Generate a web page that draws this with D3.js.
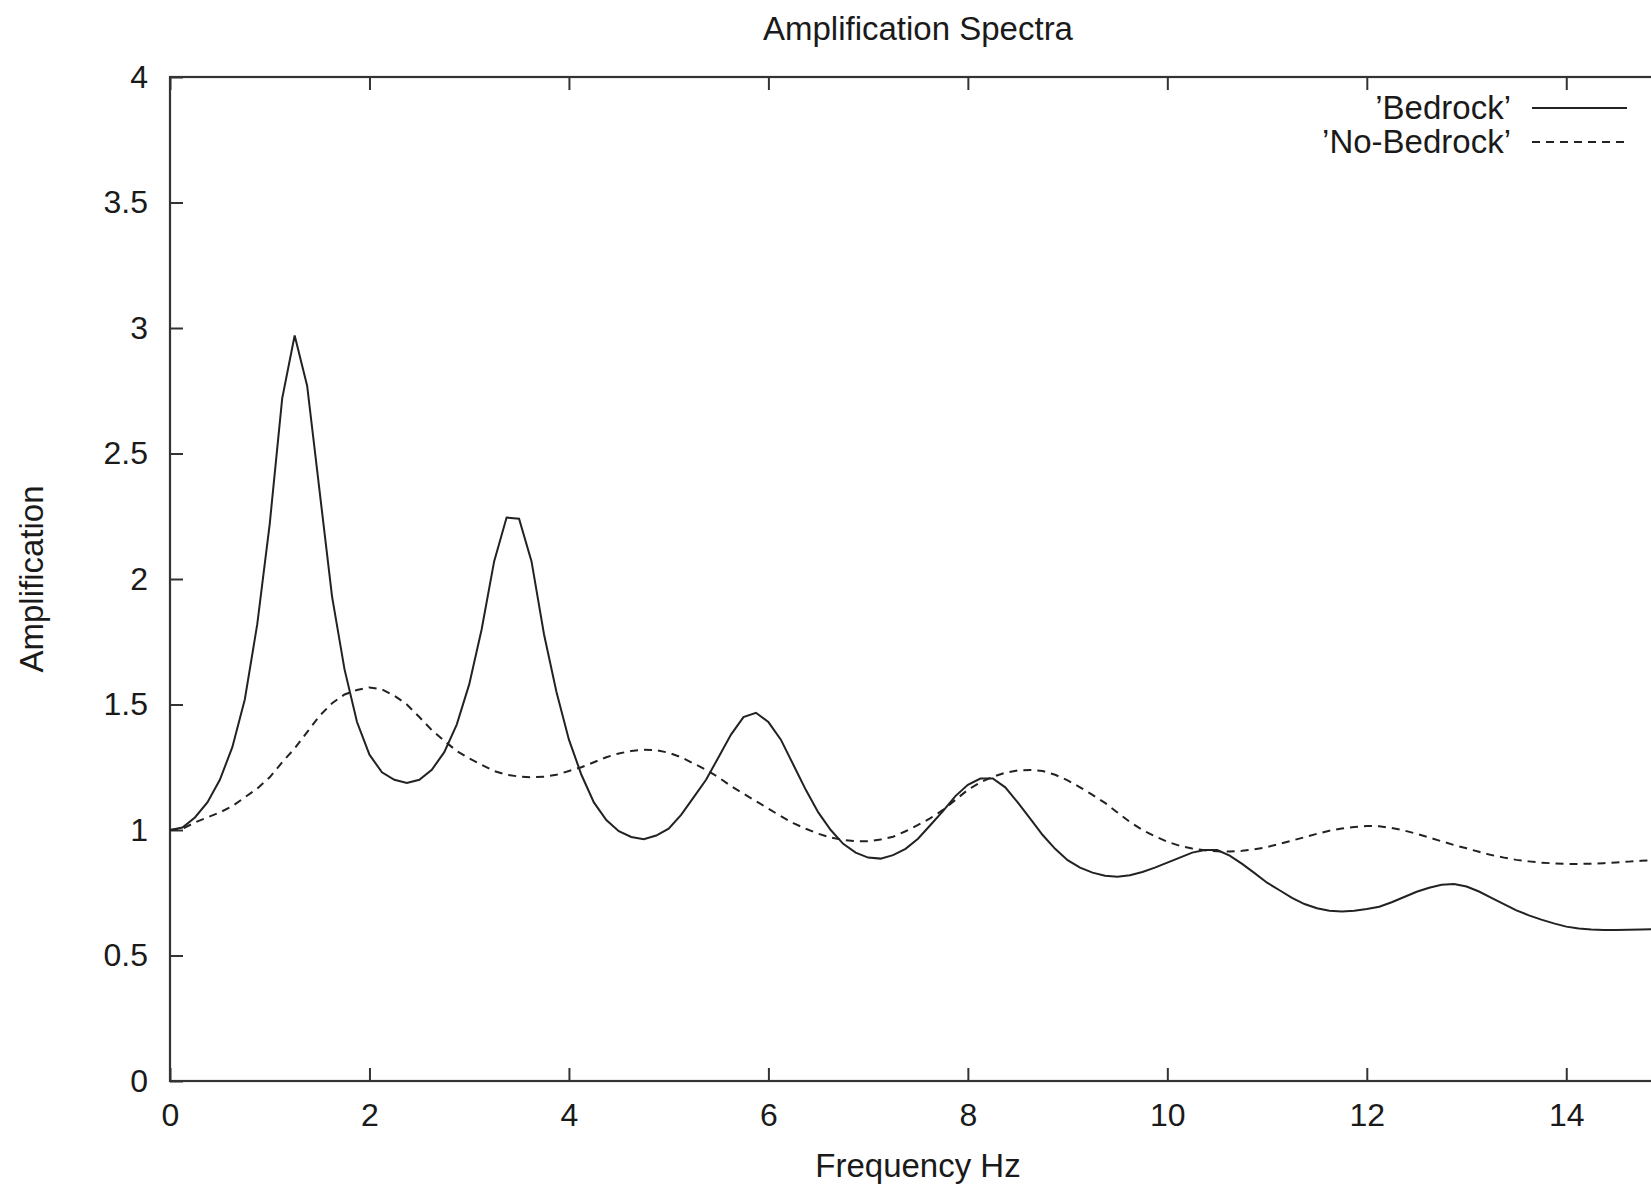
<!DOCTYPE html>
<html>
<head>
<meta charset="utf-8">
<script src="https://cdn.jsdelivr.net/npm/d3@7"></script>
<style>
    body { margin: 0; background: #fff; }
    text { font-family: "Liberation Sans", Arial, sans-serif; fill: #1a1a1a; }
</style>
</head>
<body>
<div class="chart"></div>
<script>
// frequency samples, 0.125 Hz apart (0 .. 15 Hz)
const freq = d3.range(0, 121).map(i => i * 0.125);

// amplification, one value per frequency sample
const bedrock = [
    1.00, 1.01, 1.05, 1.11, 1.20, 1.33, 1.52, 1.82, 2.22, 2.72,
    2.97, 2.77, 2.35, 1.93, 1.64, 1.43, 1.30, 1.23, 1.20, 1.187,
    1.20, 1.24, 1.31, 1.42, 1.58, 1.80, 2.07, 2.245, 2.24, 2.07,
    1.78, 1.55, 1.36, 1.22, 1.11, 1.04, 0.995, 0.972, 0.963, 0.978,
    1.005, 1.06, 1.13, 1.20, 1.29, 1.38, 1.45, 1.467, 1.43, 1.36,
    1.26, 1.16, 1.07, 1.00, 0.945, 0.91, 0.89, 0.886, 0.90, 0.925,
    0.965, 1.02, 1.075, 1.135, 1.18, 1.205, 1.205, 1.17, 1.11, 1.045,
    0.98, 0.925, 0.88, 0.85, 0.83, 0.818, 0.814, 0.82, 0.833, 0.85,
    0.87, 0.89, 0.91, 0.92, 0.92, 0.898, 0.865, 0.828, 0.79, 0.76,
    0.73, 0.705, 0.688, 0.678, 0.675, 0.678, 0.685, 0.694, 0.712, 0.733,
    0.754, 0.77, 0.782, 0.785, 0.775, 0.755, 0.73, 0.705, 0.68, 0.66,
    0.643, 0.628, 0.615, 0.608, 0.604, 0.602, 0.602, 0.603, 0.604, 0.605,
    0.606
];

const noBedrock = [
    1.00, 1.005, 1.03, 1.05, 1.07, 1.095, 1.13, 1.165, 1.21, 1.27,
    1.325, 1.39, 1.455, 1.505, 1.54, 1.558, 1.568, 1.56, 1.535, 1.50,
    1.45, 1.398, 1.355, 1.315, 1.285, 1.26, 1.235, 1.22, 1.213, 1.21,
    1.212, 1.22, 1.235, 1.25, 1.27, 1.29, 1.305, 1.315, 1.32, 1.318,
    1.308, 1.29, 1.265, 1.24, 1.21, 1.175, 1.145, 1.115, 1.085, 1.055,
    1.027, 1.005, 0.985, 0.97, 0.96, 0.955, 0.955, 0.962, 0.973, 0.995,
    1.02, 1.047, 1.08, 1.12, 1.16, 1.19, 1.212, 1.228, 1.237, 1.239,
    1.235, 1.22, 1.198, 1.17, 1.14, 1.108, 1.07, 1.032, 1.00, 0.975,
    0.953, 0.937, 0.926, 0.919, 0.915, 0.914, 0.917, 0.923, 0.932, 0.945,
    0.958, 0.971, 0.985, 0.997, 1.006, 1.012, 1.016, 1.015, 1.008, 0.998,
    0.985, 0.97, 0.955, 0.94, 0.927, 0.913, 0.90, 0.89, 0.881, 0.875,
    0.87, 0.867, 0.865, 0.865, 0.866, 0.868, 0.871, 0.874, 0.877, 0.88,
    0.883
];

// tick values
const xTicks = [0, 2, 4, 6, 8, 10, 12, 14];
const yTicks = [0, 0.5, 1, 1.5, 2, 2.5, 3, 3.5, 4];

// legend entries
const seriesNames = ["\u2019Bedrock\u2019", "\u2019No-Bedrock\u2019"];

// set size of the chart
const w = 1651, h = 1185;
const margin = { top: 77, left: 170, bottom: 1081, right: 1666 };
const tickLen = 13;
const ink = "#333";

// set scale
const xScale = d3.scaleLinear()
    .domain([0, 15])
    .range([margin.left, margin.right]);

const yScale = d3.scaleLinear()
    .domain([0, 4])
    .range([margin.bottom, margin.top]);

// create chart in svg
const svg = d3.select("div.chart")
    .append("svg")
    .attr("width", w)
    .attr("height", h);

// axes, ticks on all four sides pointing inward
const xBottom = d3.axisBottom(xScale).tickValues(xTicks)
    .tickSizeInner(-tickLen).tickSizeOuter(0).tickPadding(22)
    .tickFormat(d3.format("d"));
const xTop = d3.axisTop(xScale).tickValues(xTicks)
    .tickSizeInner(-tickLen).tickSizeOuter(0).tickFormat("");
const yLeft = d3.axisLeft(yScale).tickValues(yTicks)
    .tickSizeInner(-tickLen).tickSizeOuter(0).tickPadding(22)
    .tickFormat(d => d);
const yRight = d3.axisRight(yScale).tickValues(yTicks)
    .tickSizeInner(-tickLen).tickSizeOuter(0).tickFormat("");

svg.append("g").attr("transform", "translate(0," + margin.bottom + ")").call(xBottom);
svg.append("g").attr("transform", "translate(0," + margin.top + ")").call(xTop);
svg.append("g").attr("transform", "translate(" + margin.left + ",0)").call(yLeft);
svg.append("g").attr("transform", "translate(" + margin.right + ",0)").call(yRight);

svg.selectAll(".domain").remove();
svg.selectAll(".tick line")
    .attr("stroke", ink)
    .attr("stroke-width", 2);
svg.selectAll(".tick text")
    .style("font-size", "32px")
    .attr("fill", "#1a1a1a");

// plot border
svg.append("rect")
    .attr("x", margin.left)
    .attr("y", margin.top)
    .attr("width", margin.right - margin.left)
    .attr("height", margin.bottom - margin.top)
    .attr("fill", "none")
    .attr("stroke", ink)
    .attr("stroke-width", 2.2);

// curves
const line = (vals) => d3.line()
    .x((d, i) => xScale(freq[i]))
    .y(d => yScale(d))(vals);

svg.append("path")
    .attr("d", line(noBedrock))
    .attr("fill", "none")
    .attr("stroke", "#222")
    .attr("stroke-width", 2)
    .attr("stroke-dasharray", "8,6");

svg.append("path")
    .attr("d", line(bedrock))
    .attr("fill", "none")
    .attr("stroke", "#222")
    .attr("stroke-width", 2);

// titles
svg.append("text")
    .attr("x", (margin.left + margin.right) / 2)
    .attr("y", 40)
    .attr("text-anchor", "middle")
    .style("font-size", "33px")
    .text("Amplification Spectra");

svg.append("text")
    .attr("x", (margin.left + margin.right) / 2)
    .attr("y", 1177)
    .attr("text-anchor", "middle")
    .style("font-size", "33px")
    .text("Frequency Hz");

svg.append("text")
    .attr("transform", "translate(43," + (margin.top + margin.bottom) / 2 + ") rotate(-90)")
    .attr("text-anchor", "middle")
    .style("font-size", "33px")
    .text("Amplification");

// legend
const legend = svg.selectAll(".legend")
    .data(seriesNames)
    .enter()
    .append("g")
    .attr("transform", (d, i) => "translate(0," + (108 + i * 34) + ")");

legend.append("text")
    .attr("x", 1511)
    .attr("y", 11)
    .attr("text-anchor", "end")
    .style("font-size", "33px")
    .text(d => d);

legend.append("line")
    .attr("x1", 1532)
    .attr("x2", 1627)
    .attr("stroke", "#222")
    .attr("stroke-width", 2)
    .attr("stroke-dasharray", (d, i) => i === 1 ? "8,6" : null);
</script>
</body>
</html>
